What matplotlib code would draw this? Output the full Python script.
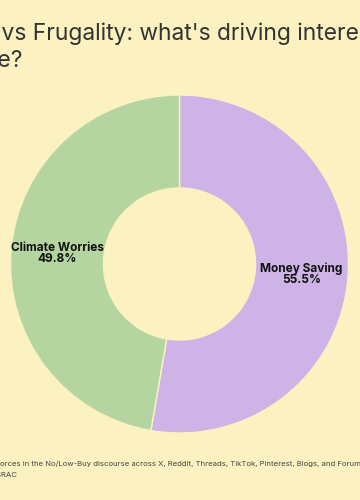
import matplotlib
matplotlib.use("Agg")
import matplotlib.pyplot as plt
import numpy as np

categories = ["Money Saving", "Climate Worries"]
values = [55.5, 49.8]
colors = ["#CDB3E6", "#B4D4A0"]

title_line1 = "Climate vs Frugality: what's driving interest in"
title_line2 = "the No/Low-Buy lifestyle?"
footer_line1 = "Driving forces in the No/Low-Buy discourse across X, Reddit, Threads, TikTok, Pinterest, Blogs, and Forums"
footer_line2 = "Source: ESRAC"

BG = "#FCF2C1"
plt.rcParams['font.family'] = ['Inter', 'DejaVu Sans']

fig = plt.figure(figsize=(3.6, 5.0), dpi=100, facecolor=BG)
W, H = 360, 500
cx, cy, r = 179.5, 264, 169
ax = fig.add_axes([(cx - r) / W, (H - cy - r) / H, 2 * r / W, 2 * r / H])
ax.set_facecolor(BG)

wedges, _ = ax.pie(values, colors=colors, startangle=90, counterclock=False,
                   radius=1.0, wedgeprops=dict(width=0.55, edgecolor=BG, linewidth=1.0))
ax.set_xlim(-1, 1)
ax.set_ylim(-1, 1)
ax.set_aspect('equal')
ax.axis('off')

fig.canvas.draw()
renderer = fig.canvas.get_renderer()

def width_px(s, **kw):
    t = fig.text(0, 0, s, **kw)
    w = t.get_window_extent(renderer).width
    t.remove()
    return w

def fit_size(s, target, base=10, **kw):
    return base * target / width_px(s, fontsize=base, **kw)

# labels
lkw = dict(fontweight='bold', color='#111111')
lsize = fit_size("Climate Worries", 93, **lkw)
mid_r = 1.0 - 0.55 / 2
for w, cat, v in zip(wedges, categories, values):
    ang = np.deg2rad((w.theta1 + w.theta2) / 2)
    ax.text(mid_r * np.cos(ang), mid_r * np.sin(ang), f"{cat}\n{v}%",
            ha='center', va='center', fontsize=lsize, linespacing=0.95, **lkw)

def place_left(text, x_start, prefix, y_px, **kw):
    wpx = width_px(prefix, **kw)
    return fig.text((x_start - wpx) / W, 1 - y_px / H, text,
                    ha='left', va='baseline', **kw)

# title
tsize = fit_size("vs Frugality: what's driving inter", 346)
tkw = dict(fontsize=tsize, color='#333333')
place_left(title_line1, 2, "Climate ", 40, **tkw)
fig.text(22 / W, 1 - 67 / H, title_line2, ha='right', va='baseline', **tkw)

# footer
fsize = fit_size("orces in the No/Low-Buy discourse across X, Reddit, Threads, TikTok, Pinterest, Blogs, and Forum", 362)
fkw = dict(fontsize=fsize, color='#444444')
place_left(footer_line1, 0, "Driving f", 466, **fkw)
fig.text(17 / W, 1 - 477 / H, footer_line2, ha='right', va='baseline', **fkw)

fig.savefig("out.png", dpi=100, facecolor=BG)
